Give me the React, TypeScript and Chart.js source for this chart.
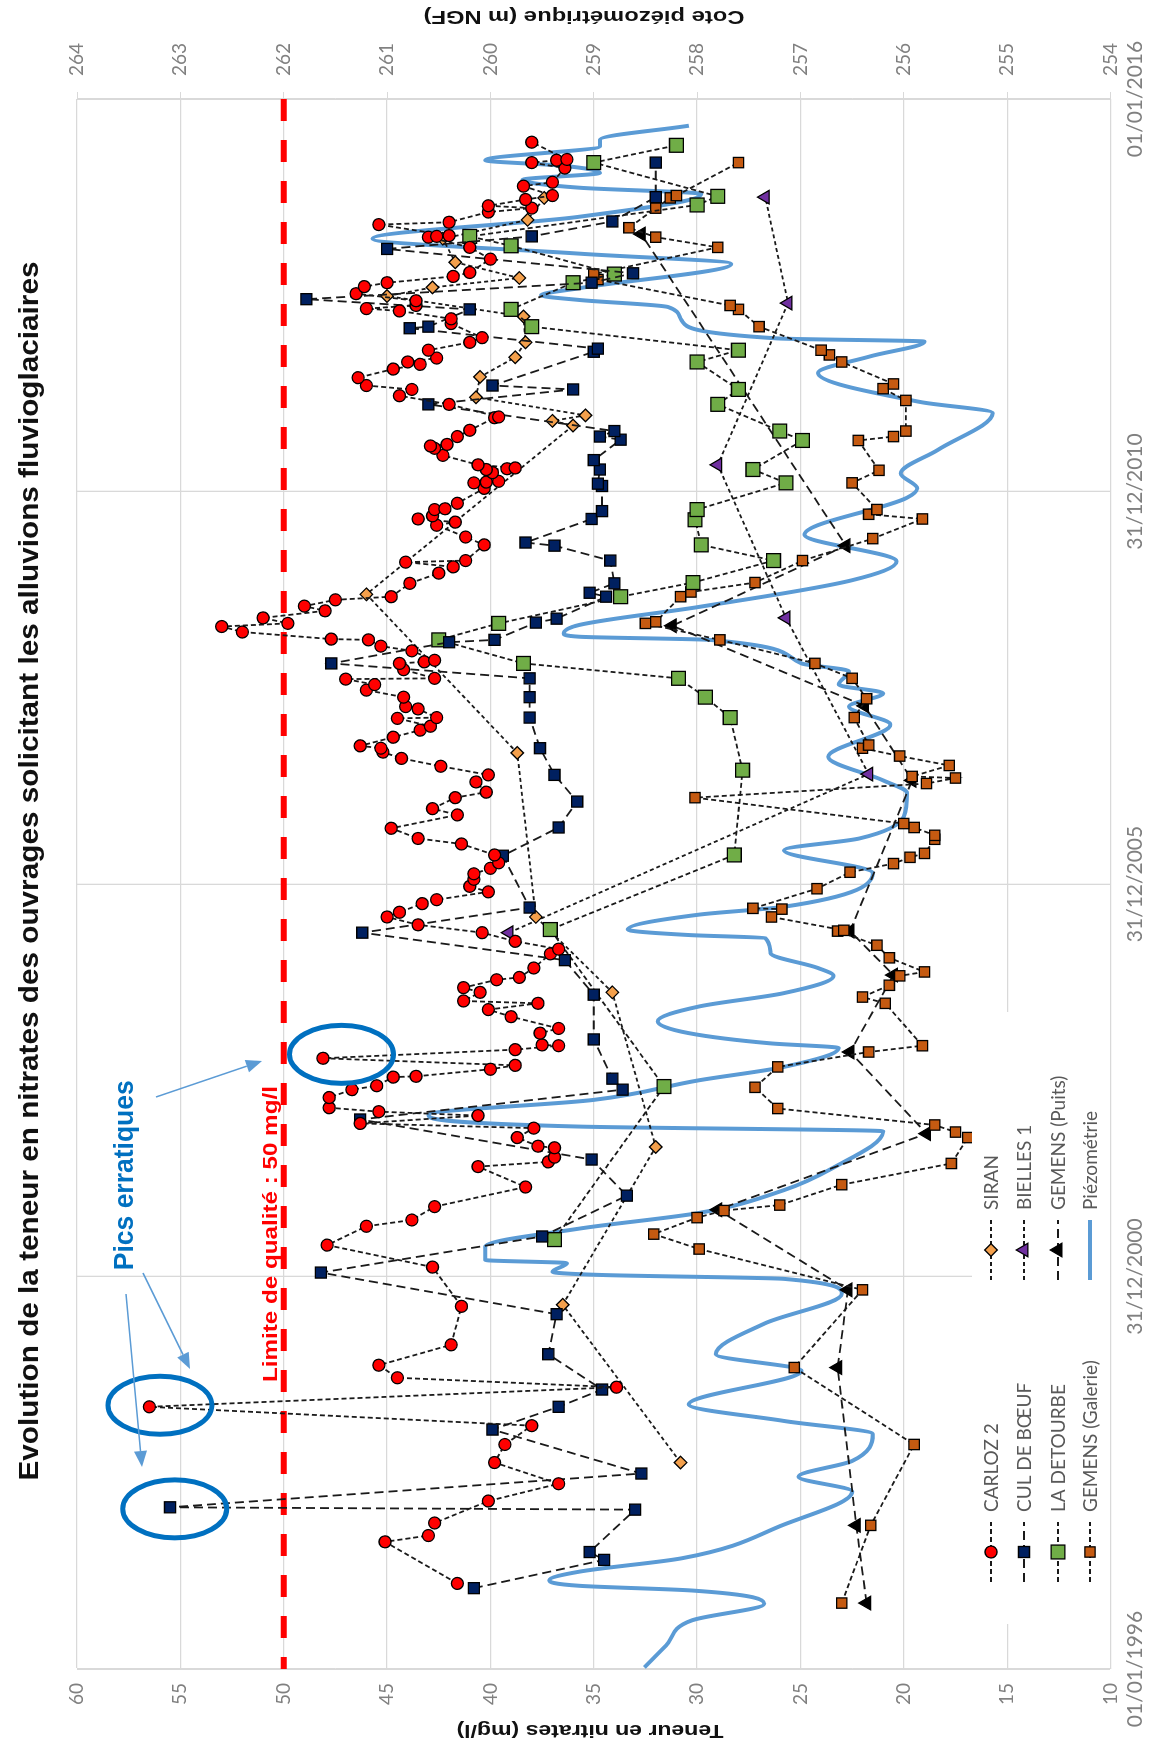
import React, { useEffect, useRef } from 'react';
import { Chart, registerables } from 'chart.js';

Chart.register(...registerables);

// ---------------- DATA ----------------
const TIME_TICKS = [1996, 2001, 2006, 2011, 2016];
const TIME_TICK_LABELS = ['01/01/1996', '31/12/2000', '31/12/2005', '31/12/2010', '01/01/2016'];
const NITRATE_RANGE = [10, 60];
const PIEZO_RANGE = [254, 264];
const QUALITY_LIMIT = 50;

const CARLOZ_2: [number, number][] = [
  [1997.09, 41.6], [1997.62, 45.1], [1997.70, 43.0], [1997.86, 42.7], [1998.14, 40.1], [1998.36, 36.7], [1998.63, 39.8], [1998.86, 39.3],
  [1999.10, 38.0], [1999.34, 56.5], [1999.59, 33.9], [1999.71, 44.5], [1999.87, 45.4], [2000.13, 41.9], [2000.62, 41.4], [2001.12, 42.8],
  [2001.40, 47.9], [2001.64, 46.0], [2001.72, 43.8], [2001.89, 42.7], [2002.14, 38.3], [2002.40, 40.6], [2002.46, 37.2], [2002.52, 36.9],
  [2002.64, 36.9], [2002.66, 37.7], [2002.77, 38.7], [2002.89, 37.9], [2002.95, 46.3], [2003.05, 40.6], [2003.10, 45.4], [2003.15, 47.8],
  [2003.28, 47.8], [2003.38, 46.7], [2003.43, 45.5], [2003.54, 44.7], [2003.55, 43.6], [2003.64, 40.0], [2003.69, 38.8], [2003.78, 48.1],
  [2003.89, 38.8], [2003.94, 36.7], [2003.95, 37.5], [2004.10, 37.6], [2004.16, 36.7], [2004.31, 39.0], [2004.40, 40.1], [2004.48, 37.7],
  [2004.51, 41.3], [2004.62, 40.5], [2004.68, 41.3], [2004.78, 39.7], [2004.81, 38.6], [2004.93, 37.9], [2005.11, 37.1], [2005.17, 36.7],
  [2005.27, 38.8], [2005.38, 40.4], [2005.48, 43.5], [2005.58, 45.0], [2005.64, 44.4], [2005.75, 43.3], [2005.80, 42.6], [2005.90, 40.1],
  [2005.97, 41.0], [2006.06, 40.8], [2006.13, 40.8], [2006.20, 40.0], [2006.27, 39.6], [2006.37, 39.8], [2006.51, 41.4], [2006.58, 43.5],
  [2006.71, 44.8], [2006.88, 41.6], [2006.96, 42.8], [2007.10, 41.7], [2007.17, 40.2], [2007.30, 40.7], [2007.39, 40.1], [2007.50, 42.4],
  [2007.60, 44.3], [2007.68, 45.2], [2007.73, 45.3], [2007.76, 46.3], [2007.87, 44.7], [2007.96, 43.4], [2008.01, 42.9], [2008.11, 44.5],
  [2008.12, 42.6], [2008.23, 43.5], [2008.26, 44.1], [2008.38, 44.2], [2008.47, 46.0], [2008.54, 45.6], [2008.61, 47.0], [2008.62, 42.7],
  [2008.73, 44.2], [2008.81, 44.4], [2008.83, 43.2], [2008.85, 42.7], [2008.97, 43.8], [2009.03, 45.3], [2009.11, 45.9], [2009.12, 47.7],
  [2009.21, 52.0], [2009.28, 53.0], [2009.32, 49.8], [2009.39, 51.0], [2009.48, 48.0], [2009.54, 49.0], [2009.62, 47.5], [2009.66, 44.8],
  [2009.83, 43.9], [2009.96, 42.5], [2010.04, 41.8], [2010.10, 44.1], [2010.12, 41.2], [2010.32, 40.3], [2010.42, 41.2], [2010.57, 42.6],
  [2010.61, 41.7], [2010.65, 43.5], [2010.69, 42.8], [2010.77, 42.7], [2010.78, 42.2], [2010.85, 41.6], [2011.04, 40.3], [2011.11, 40.8],
  [2011.12, 40.2], [2011.13, 39.6], [2011.24, 39.9], [2011.28, 40.2], [2011.29, 39.2], [2011.30, 38.8], [2011.34, 40.6], [2011.46, 42.3],
  [2011.55, 42.7], [2011.58, 42.9], [2011.60, 42.1], [2011.70, 41.6], [2011.78, 41.0], [2011.94, 39.8], [2011.95, 39.6], [2012.11, 42.0],
  [2012.22, 44.4], [2012.30, 43.8], [2012.35, 46.0], [2012.45, 46.4], [2012.56, 44.7], [2012.62, 43.4], [2012.65, 44.0], [2012.70, 42.6],
  [2012.80, 43.0], [2012.90, 41.0], [2012.96, 40.4], [2013.14, 41.9], [2013.20, 41.9], [2013.30, 44.4], [2013.33, 46.0], [2013.37, 43.6],
  [2013.43, 43.6], [2013.52, 46.5], [2013.61, 46.1], [2013.66, 45.0], [2013.74, 41.8], [2013.79, 41.0], [2013.96, 40.0], [2014.11, 41.0],
  [2014.24, 43.0], [2014.25, 42.6], [2014.26, 42.0], [2014.40, 45.4], [2014.43, 42.0], [2014.56, 40.1], [2014.61, 38.0], [2014.64, 40.1],
  [2014.72, 38.3], [2014.77, 37.0], [2014.89, 38.4], [2014.94, 37.0], [2015.12, 36.4], [2015.19, 38.0], [2015.22, 36.8], [2015.23, 36.3],
  [2015.45, 38.0],
];

const CUL_DE_BOEUF: [number, number][] = [
  [1997.03, 40.8], [1997.39, 34.5], [1997.49, 35.2], [1998.03, 33.0], [1998.06, 55.5], [1998.49, 32.7], [1999.05, 39.9], [1999.34, 36.7],
  [1999.56, 34.6], [2000.01, 37.2], [2000.52, 36.8], [2001.05, 48.2], [2001.51, 37.5], [2002.03, 33.4], [2002.49, 35.1], [2003.00, 46.3],
  [2003.38, 33.6], [2003.52, 34.1], [2004.02, 35.0], [2004.59, 35.0], [2005.03, 36.4], [2005.38, 46.2], [2005.70, 38.1], [2006.36, 39.4],
  [2006.72, 36.7], [2007.05, 35.8], [2007.39, 36.9], [2007.73, 37.6], [2008.12, 38.1], [2008.38, 38.1], [2008.62, 38.1], [2008.81, 47.7],
  [2009.08, 42.0], [2009.11, 39.8], [2009.33, 37.8], [2009.38, 36.8], [2009.66, 34.4], [2009.71, 35.2], [2009.83, 34.0], [2010.12, 34.2],
  [2010.31, 36.9], [2010.35, 38.3], [2010.65, 35.1], [2010.75, 34.6], [2011.07, 34.6], [2011.10, 34.8], [2011.28, 34.7], [2011.40, 35.0],
  [2011.66, 33.7], [2011.70, 34.7], [2011.77, 34.0], [2012.11, 43.0], [2012.30, 36.0], [2012.35, 39.9], [2012.78, 35.0], [2012.82, 34.8],
  [2013.08, 43.9], [2013.10, 43.0], [2013.32, 41.0], [2013.45, 48.9], [2013.66, 35.1], [2013.78, 33.1], [2014.09, 45.0], [2014.25, 38.0],
  [2014.44, 34.1], [2014.75, 32.0], [2015.19, 32.0],
];

const LA_DETOURBE: [number, number][] = [
  [2001.47, 36.9], [2003.42, 31.6], [2005.42, 37.1], [2006.37, 28.2], [2007.45, 27.8], [2008.12, 28.4], [2008.38, 29.6], [2008.62, 30.9],
  [2008.81, 38.4], [2009.11, 42.5], [2009.32, 39.6], [2009.66, 33.7], [2009.84, 30.2], [2010.12, 26.3], [2010.32, 29.8], [2010.64, 30.1],
  [2010.77, 30.0], [2011.11, 25.7], [2011.28, 27.3], [2011.65, 24.9], [2011.77, 26.0], [2012.11, 29.0], [2012.30, 28.0], [2012.65, 30.0],
  [2012.80, 28.0], [2013.10, 38.0], [2013.32, 39.0], [2013.66, 36.0], [2013.77, 34.0], [2014.13, 39.0], [2014.25, 41.0], [2014.65, 30.0],
  [2014.76, 29.0], [2015.19, 35.0], [2015.41, 31.0],
];

const GEMENS_GALERIE: [number, number][] = [
  [1996.84, 23.0], [1997.83, 21.6], [1998.86, 19.5], [1999.84, 25.3], [2000.83, 22.0], [2001.35, 29.9], [2001.54, 32.1], [2001.75, 30.0],
  [2001.84, 28.7], [2001.91, 26.0], [2002.17, 23.0], [2002.44, 17.7], [2002.77, 16.9], [2002.84, 17.5], [2002.93, 18.5], [2003.14, 26.1],
  [2003.41, 27.2], [2003.67, 26.1], [2003.86, 21.7], [2003.94, 19.1], [2004.48, 20.9], [2004.56, 22.0], [2004.71, 20.7], [2004.83, 20.2],
  [2004.88, 19.0], [2005.06, 20.7], [2005.22, 21.3], [2005.40, 23.2], [2005.41, 22.9], [2005.58, 26.4], [2005.68, 25.9], [2005.69, 27.3],
  [2005.94, 24.2], [2006.15, 22.6], [2006.26, 20.5], [2006.34, 19.7], [2006.39, 19.0], [2006.57, 18.5], [2006.62, 18.5], [2006.72, 19.5],
  [2006.77, 20.0], [2007.10, 30.1], [2007.28, 18.9], [2007.35, 17.5], [2007.37, 19.6], [2007.51, 17.8], [2007.63, 20.2], [2007.73, 22.0],
  [2007.77, 21.7], [2008.12, 22.4], [2008.36, 21.8], [2008.62, 22.5], [2008.81, 24.3], [2009.11, 28.9], [2009.32, 32.5], [2009.34, 32.0],
  [2009.66, 30.8], [2009.72, 30.3], [2009.84, 27.2], [2010.12, 24.9], [2010.40, 21.5], [2010.65, 19.1], [2010.71, 21.7], [2010.77, 21.3],
  [2011.11, 22.5], [2011.27, 21.2], [2011.65, 22.2], [2011.70, 20.5], [2011.77, 19.9], [2012.16, 19.9], [2012.31, 21.0], [2012.37, 20.5],
  [2012.65, 23.0], [2012.74, 23.6], [2012.80, 24.0], [2013.10, 27.0], [2013.32, 28.0], [2013.37, 28.4], [2013.70, 34.8], [2013.77, 35.0],
  [2014.11, 29.0], [2014.24, 32.0], [2014.36, 33.3], [2014.61, 32.0], [2014.74, 31.3], [2014.77, 31.0], [2015.19, 28.0],
];

const SIRAN: [number, number][] = [
  [1998.63, 30.8], [2000.64, 36.5], [2002.65, 32.0], [2004.62, 34.1], [2005.58, 37.8], [2007.67, 38.7], [2009.69, 46.0], [2011.84, 36.0],
  [2011.90, 37.0], [2011.97, 35.4], [2012.20, 40.7], [2012.46, 40.5], [2012.71, 38.8], [2012.90, 38.3], [2013.23, 38.4], [2013.49, 45.0],
  [2013.60, 42.8], [2013.72, 38.6], [2013.92, 41.7], [2014.22, 42.3], [2014.46, 38.2], [2014.74, 37.4],
];

const BIELLES_1: [number, number][] = [
  [2005.38, 39.1], [2007.40, 21.7], [2009.39, 25.7], [2011.34, 29.0], [2013.40, 25.6], [2014.75, 26.7],
];

const GEMENS_PUITS: [number, number][] = [
  [1996.84, 21.8], [1997.83, 22.3], [1999.84, 23.2], [2000.83, 22.7], [2001.85, 29.0], [2002.82, 18.9], [2003.86, 22.6], [2004.84, 20.5],
  [2005.40, 22.6], [2007.32, 19.6], [2008.27, 21.9], [2009.29, 31.2], [2010.31, 22.8], [2014.28, 32.7],
];

const PIEZOMETRIE: [number, number][] = [
  [1996.02, 258.51], [1996.30, 258.30], [1996.62, 258.05], [1996.83, 257.35], [1997.00, 258.05], [1997.06, 259.14], [1997.13, 259.43],
  [1997.24, 259.14], [1997.41, 258.15], [1997.84, 257.16], [1998.26, 256.50], [1998.45, 257.02], [1998.65, 256.50], [1998.99, 256.30],
  [1999.16, 257.16], [1999.37, 258.08], [1999.80, 256.99], [2000.01, 257.82], [2000.40, 257.35], [2000.78, 256.60], [2000.97, 257.16],
  [2001.02, 258.94], [2001.06, 259.40], [2001.17, 259.26], [2001.21, 260.05], [2001.38, 260.05], [2001.61, 259.14], [2001.81, 257.98],
  [2002.10, 257.16], [2002.38, 256.69], [2002.85, 256.20], [2002.91, 259.14], [2003.06, 260.60], [2003.25, 259.00], [2003.50, 257.98],
  [2003.67, 257.16], [2003.91, 256.63], [2003.97, 257.29], [2004.10, 258.08], [2004.25, 258.38], [2004.44, 257.98], [2004.61, 257.16],
  [2004.83, 256.68], [2004.93, 256.83], [2005.12, 257.29], [2005.31, 257.34], [2005.35, 258.08], [2005.42, 258.67], [2005.61, 257.98],
  [2005.71, 257.16], [2006.14, 256.30], [2006.43, 257.16], [2006.58, 256.43], [2006.86, 256.00], [2007.16, 255.97], [2007.32, 256.20],
  [2007.62, 256.73], [2008.03, 256.13], [2008.26, 256.53], [2008.43, 256.20], [2008.54, 256.63], [2008.71, 256.53], [2008.81, 256.99],
  [2009.11, 257.88], [2009.15, 259.14], [2009.19, 259.29], [2009.30, 259.14], [2009.53, 257.98], [2009.87, 256.50], [2010.11, 256.07],
  [2010.45, 256.96], [2010.92, 255.97], [2011.04, 255.87], [2011.23, 256.03], [2011.53, 255.67], [2012.00, 255.14], [2012.14, 255.84],
  [2012.51, 256.83], [2012.72, 256.33], [2012.91, 255.80], [2012.95, 257.22], [2013.18, 258.15], [2013.35, 258.28], [2013.44, 259.14],
  [2013.50, 259.51], [2013.59, 259.14], [2013.90, 257.67], [2014.03, 259.14], [2014.22, 261.14], [2014.50, 259.14], [2014.79, 257.96],
  [2014.87, 259.14], [2014.97, 259.69], [2015.06, 258.94], [2015.15, 259.30], [2015.22, 260.05], [2015.40, 258.94], [2015.48, 258.94],
  [2015.66, 258.08],
];

// Annotation anchors (in data units): erratic peaks circled
const ERRATIC_PEAKS: [number, number][] = [[1998.04, 55.27], [1999.36, 55.99], [2003.83, 47.2]];

// ---------------- TEXT ----------------
const TITLE = 'Evolution de la teneur en nitrates des ouvrages solicitant les alluvions fluvioglaciaires';
const Y_TITLE = 'Teneur en nitrates (mg/l)';
const Y2_TITLE = 'Cote piézométrique (m NGF)';
const LIMIT_LABEL = 'Limite de qualité : 50 mg/l';
const PEAK_LABEL = 'Pics erratiques';

// ---------------- STYLES ----------------
const CANVAS_W = 1746;
const CANVAS_H = 1157;
const FONT = "Lato, 'Liberation Sans', sans-serif";
const BOLD_FONT = "'Liberation Sans', Arial, sans-serif";
const GRID = '#d9d9d9';
const TICK_COLOR = '#808080';

type Shape = 'circle' | 'rect' | 'rectRot' | 'triangle';
interface SeriesDef { label: string; data: [number, number][]; shape: Shape; r: number; fill: string; dash: number[]; col: number; row: number }

const SERIES: SeriesDef[] = [
  { label: 'CARLOZ 2', data: CARLOZ_2, shape: 'circle', r: 6, fill: '#ff0000', dash: [5, 3], col: 0, row: 0 },
  { label: 'CUL DE BŒUF', data: CUL_DE_BOEUF, shape: 'rect', r: 7.8, fill: '#002060', dash: [9, 5], col: 0, row: 1 },
  { label: 'LA DETOURBE', data: LA_DETOURBE, shape: 'rect', r: 9.8, fill: '#70ad47', dash: [5, 3], col: 0, row: 2 },
  { label: 'GEMENS (Galerie)', data: GEMENS_GALERIE, shape: 'rect', r: 7.3, fill: '#c55a11', dash: [5, 3], col: 0, row: 3 },
  { label: 'SIRAN', data: SIRAN, shape: 'rectRot', r: 6.3, fill: '#f4a04c', dash: [4, 3], col: 1, row: 0 },
  { label: 'BIELLES 1', data: BIELLES_1, shape: 'triangle', r: 7.8, fill: '#7030a0', dash: [4, 3], col: 1, row: 1 },
  { label: 'GEMENS (Puits)', data: GEMENS_PUITS, shape: 'triangle', r: 7.8, fill: '#000000', dash: [9, 5], col: 1, row: 2 },
];

function drawMarker(ctx: CanvasRenderingContext2D, shape: Shape, x: number, y: number, r: number, fill: string) {
  ctx.save();
  ctx.setLineDash([]);
  ctx.fillStyle = fill;
  ctx.strokeStyle = '#000';
  ctx.lineWidth = 1.3;
  ctx.beginPath();
  if (shape === 'circle') ctx.arc(x, y, r, 0, Math.PI * 2);
  else if (shape === 'rect') { const s = r * Math.SQRT1_2; ctx.rect(x - s, y - s, 2 * s, 2 * s); }
  else if (shape === 'rectRot') { ctx.moveTo(x - r, y); ctx.lineTo(x, y - r); ctx.lineTo(x + r, y); ctx.lineTo(x, y + r); ctx.closePath(); }
  else {
    for (let k = 0; k < 3; k++) {
      const a = (k * 2 * Math.PI) / 3;
      const px = x + Math.sin(a) * r, py = y - Math.cos(a) * r;
      if (k === 0) ctx.moveTo(px, py); else ctx.lineTo(px, py);
    }
    ctx.closePath();
  }
  ctx.fill();
  ctx.stroke();
  ctx.restore();
}

function fitText(ctx: CanvasRenderingContext2D, text: string, x: number, y: number, font: string, targetW: number, color: string, rot = 0) {
  ctx.save();
  ctx.font = font;
  const w = ctx.measureText(text).width;
  const sx = Math.max(0.6, Math.min(1.4, targetW / w));
  ctx.translate(x, y);
  ctx.rotate(rot);
  ctx.scale(sx, 1);
  ctx.textAlign = 'center';
  ctx.textBaseline = 'alphabetic';
  ctx.fillStyle = color;
  ctx.fillText(text, 0, 0);
  ctx.restore();
}

function arrow(ctx: CanvasRenderingContext2D, x0: number, y0: number, x1: number, y1: number) {
  const ang = Math.atan2(y1 - y0, x1 - x0);
  const hl = 16, hw = 6.5;
  ctx.save();
  ctx.strokeStyle = '#5b9bd5';
  ctx.fillStyle = '#5b9bd5';
  ctx.lineWidth = 1.5;
  ctx.setLineDash([]);
  ctx.beginPath();
  ctx.moveTo(x0, y0);
  ctx.lineTo(x1 - Math.cos(ang) * hl, y1 - Math.sin(ang) * hl);
  ctx.stroke();
  ctx.beginPath();
  ctx.moveTo(x1, y1);
  ctx.lineTo(x1 - Math.cos(ang) * hl - Math.sin(ang) * hw, y1 - Math.sin(ang) * hl + Math.cos(ang) * hw);
  ctx.lineTo(x1 - Math.cos(ang) * hl + Math.sin(ang) * hw, y1 - Math.sin(ang) * hl - Math.cos(ang) * hw);
  ctx.closePath();
  ctx.fill();
  ctx.restore();
}

const overlayPlugin = {
  id: 'overlay',
  beforeDatasetsDraw(chart: any) {
    const { ctx, chartArea: ca, scales } = chart;
    const y50 = scales.y.getPixelForValue(QUALITY_LIMIT);
    ctx.save();
    ctx.strokeStyle = '#ff0000';
    ctx.lineWidth = 6;
    ctx.setLineDash([22, 19]);
    ctx.beginPath();
    ctx.moveTo(ca.right, y50);
    ctx.lineTo(ca.left, y50);
    ctx.stroke();
    ctx.restore();
  },
  afterDatasetsDraw(chart: any) {
    const { ctx, chartArea: ca, scales } = chart;
    const X = (v: number) => scales.x.getPixelForValue(v);
    const Y = (v: number) => scales.y.getPixelForValue(v);

    // legend box
    ctx.save();
    ctx.fillStyle = '#ffffff';
    ctx.fillRect(122, 972, 612, ca.bottom - 972 - 0.5);
    ctx.restore();
    const rowsY = [991, 1024, 1058, 1090];
    const colsX = [164, 466];
    const drawEntry = (col: number, row: number, label: string, dash: number[], color: string, width: number, marker?: SeriesDef) => {
      const x0 = colsX[col], y = rowsY[row];
      ctx.save();
      ctx.strokeStyle = color;
      ctx.lineWidth = width;
      ctx.setLineDash(dash);
      ctx.beginPath();
      ctx.moveTo(x0, y);
      ctx.lineTo(x0 + 60, y);
      ctx.stroke();
      ctx.restore();
      if (marker) drawMarker(ctx, marker.shape, x0 + 30, y, marker.r, marker.fill);
      ctx.save();
      ctx.font = `19px ${FONT}`;
      ctx.fillStyle = '#595959';
      ctx.textAlign = 'left';
      ctx.textBaseline = 'middle';
      ctx.fillText(label, x0 + 70, y + 1);
      ctx.restore();
    };
    SERIES.forEach((s) => drawEntry(s.col, s.row, s.label, s.dash, '#1a1a1a', 1.8, s));
    drawEntry(1, 3, 'Piézométrie', [], '#5b9bd5', 4);

    // quality limit label
    fitText(ctx, LIMIT_LABEL, X(2001.54), Y(QUALITY_LIMIT) - 7, `bold 21px ${BOLD_FONT}`, 296, '#ff0000');

    // erratic peaks
    ctx.save();
    ctx.strokeStyle = '#0070c0';
    ctx.lineWidth = 5;
    ERRATIC_PEAKS.forEach(([yr, v]) => {
      ctx.beginPath();
      ctx.ellipse(X(yr), Y(v), 29, 52, 0, 0, Math.PI * 2);
      ctx.stroke();
    });
    ctx.restore();
    fitText(ctx, PEAK_LABEL, X(2002.29), 133, `bold 27px ${BOLD_FONT}`, 190, '#0070c0');
    arrow(ctx, 649, 156, 685, 262);
    arrow(ctx, 473, 143, 377, 190);
    arrow(ctx, 452, 126, 279, 142);
  },
  afterDraw(chart: any) {
    const { ctx } = chart;
    fitText(ctx, TITLE, 875, 38, `bold 27px ${BOLD_FONT}`, 1219, '#111111');
    fitText(ctx, Y_TITLE, 21, 590, `bold 18px ${BOLD_FONT}`, 267, '#111111', -Math.PI / 2);
    fitText(ctx, Y2_TITLE, 1735, 584, `bold 18px ${BOLD_FONT}`, 321, '#111111', -Math.PI / 2);
  },
};

export default function App() {
  const ref = useRef<HTMLCanvasElement | null>(null);

  useEffect(() => {
    const canvas = ref.current;
    if (!canvas) return;
    const datasets: any[] = SERIES.map((s) => ({
      label: s.label,
      data: s.data.map(([x, y]) => ({ x, y })),
      showLine: true,
      borderColor: '#1a1a1a',
      borderWidth: 1.8,
      borderDash: s.dash,
      pointStyle: s.shape,
      pointRadius: s.r,
      pointBackgroundColor: s.fill,
      pointBorderColor: '#000000',
      pointBorderWidth: 1.3,
      yAxisID: 'y',
      tension: 0,
    }));
    datasets.push({
      label: 'Piézométrie',
      data: PIEZOMETRIE.map(([x, y]) => ({ x, y })),
      showLine: true,
      borderColor: '#5b9bd5',
      borderWidth: 4,
      pointRadius: 0,
      yAxisID: 'y2',
      cubicInterpolationMode: 'monotone',
    });

    const tickFont = { family: FONT, size: 19 };
    const chart = new Chart(canvas, {
      type: 'scatter',
      data: { datasets },
      options: {
        animation: false,
        responsive: false,
        devicePixelRatio: 1,
        layout: { padding: { top: 77, left: 0, right: 0, bottom: 0 } },
        plugins: { legend: { display: false }, tooltip: { enabled: false }, title: { display: false } },
        scales: {
          x: {
            type: 'linear',
            min: TIME_TICKS[0],
            max: TIME_TICKS[TIME_TICKS.length - 1],
            afterBuildTicks: (s: any) => { s.ticks = TIME_TICKS.map((v) => ({ value: v })); },
            afterFit: (s: any) => { s.height = 46.5; },
            ticks: {
              autoSkip: false,
              maxRotation: 0,
              padding: 12,
              color: TICK_COLOR,
              font: { family: FONT, size: 21 },
              callback: (v: any) => { const i = TIME_TICKS.indexOf(Number(v)); return i >= 0 ? TIME_TICK_LABELS[i] : ''; },
            },
            grid: { color: GRID, lineWidth: 1.3, drawTicks: false },
            border: { color: GRID },
          },
          y: {
            position: 'left',
            min: NITRATE_RANGE[0],
            max: NITRATE_RANGE[1],
            afterFit: (s: any) => { s.width = 77; },
            ticks: { stepSize: 5, padding: 14, color: TICK_COLOR, font: tickFont },
            grid: { color: GRID, lineWidth: 1.3, drawTicks: false },
            border: { color: GRID },
          },
          y2: {
            position: 'right',
            min: PIEZO_RANGE[0],
            max: PIEZO_RANGE[1],
            afterFit: (s: any) => { s.width = 99; },
            ticks: { stepSize: 1, padding: 16, color: TICK_COLOR, font: tickFont },
            grid: { color: GRID, drawOnChartArea: false, drawTicks: true, tickLength: 7 },
            border: { color: GRID },
          },
        },
      } as any,
      plugins: [overlayPlugin],
    });
    return () => chart.destroy();
  }, []);

  return (
    <div style={{ position: 'fixed', left: 0, top: 0, width: 1157, height: 1746, overflow: 'hidden', background: '#fff' }}>
      <div
        style={{
          position: 'absolute',
          left: 0,
          top: 0,
          width: CANVAS_W,
          height: CANVAS_H,
          transformOrigin: '0 0',
          transform: `translateY(${CANVAS_W}px) rotate(-90deg)`,
        }}
      >
        <canvas ref={ref} width={CANVAS_W} height={CANVAS_H} style={{ width: CANVAS_W, height: CANVAS_H, display: 'block' }} />
      </div>
    </div>
  );
}
